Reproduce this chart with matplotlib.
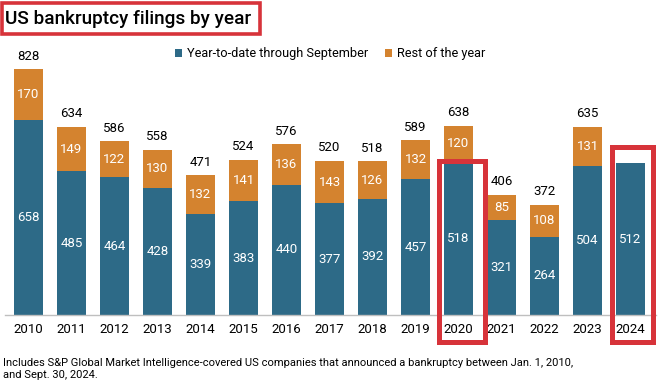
import numpy as np
import matplotlib
matplotlib.use("Agg")
import matplotlib.pyplot as plt
from matplotlib.patches import Rectangle

years = ["2010", "2011", "2012", "2013", "2014", "2015", "2016", "2017",
         "2018", "2019", "2020", "2021", "2022", "2023", "2024"]
ytd = [658, 485, 464, 428, 339, 383, 440, 377, 392, 457, 518, 321, 264, 504, 512]
rest = [170, 149, 122, 130, 132, 141, 136, 143, 126, 132, 120, 85, 108, 131, None]
highlight = ["2020", "2024"]

teal = "#2d6a87"
orange = "#d4832f"
red = "#d7333a"

plt.rcParams['font.family'] = ['Roboto', 'DejaVu Sans']

W, H = 660, 387
fig = plt.figure(figsize=(W / 100, H / 100), dpi=100)

def fx(x):
    return x / W

def fy(y):
    return 1 - y / H

# axes placed so bars line up with the reference
base_px, top_px = 315, 40
ax = fig.add_axes([fx(5), fy(base_px), fx(651), (base_px - top_px) / H])

x = np.arange(len(years))
ytd_a = np.array(ytd, dtype=float)
rest_a = np.array([np.nan if r is None else r for r in rest], dtype=float)
width = 0.674

b1 = ax.bar(x, ytd_a, width, color=teal, label="Year-to-date through September")
b2 = ax.bar(x, np.nan_to_num(rest_a), width, bottom=ytd_a, color=orange,
            label="Rest of the year")

for i in range(len(years)):
    ax.text(x[i], ytd_a[i] / 2, f"{int(ytd_a[i])}", ha='center', va='center',
            color='white', fontsize=9.5)
    if not np.isnan(rest_a[i]):
        ax.text(x[i], ytd_a[i] + rest_a[i] / 2, f"{int(rest_a[i])}",
                ha='center', va='center', color='white', fontsize=9.5)
        tot = ytd_a[i] + rest_a[i]
        ax.text(x[i], tot + 44, f"{int(tot)}", ha='center', va='center',
                color='black', fontsize=9.5)

ax.set_xlim((5 - 28.5) / 43, (656 - 28.5) / 43)
ax.set_ylim(0, (base_px - top_px) / 0.2965)
ax.set_xticks(x)
ax.set_xticklabels(years, fontsize=9.5)
ax.tick_params(axis='x', length=0, pad=6)
ax.set_yticks([])
for s in ['top', 'right', 'left']:
    ax.spines[s].set_visible(False)
ax.spines['bottom'].set_color('#bfbfbf')
ax.spines['bottom'].set_linewidth(1)
ax.patch.set_alpha(0)

ax.legend(handles=[b1, b2], loc='center', bbox_to_anchor=(0.5, fy(54)),
          bbox_transform=fig.transFigure, ncol=2, frameon=False,
          fontsize=9.2, handlelength=0.55, handleheight=0.55,
          handletextpad=0.4, columnspacing=1.3)

# title with red frame
fig.text(fx(5), fy(19), "US bankruptcy filings by year", fontsize=13.7,
         fontweight='medium', ha='left', va='center')
fig.patches.append(Rectangle((fx(1.75), fy(33.5)), fx(258.5), (33.5 - 3.5) / H,
                             transform=fig.transFigure, fill=False,
                             edgecolor=red, linewidth=2.6))

# highlight frames around 2020 and 2024
frames = {"2020": (438.5, 160.5, 484.5), "2024": (611.5, 147.5, 652.5)}
for yr in highlight:
    l, t, r = frames[yr]
    fig.patches.append(Rectangle((fx(l), fy(341.5)), fx(r - l), (341.5 - t) / H,
                                 transform=fig.transFigure, fill=False,
                                 edgecolor=red, linewidth=3.6))

fig.text(fx(3), fy(369), "Includes S&P Global Market Intelligence-covered US companies "
         "that announced a bankruptcy between Jan. 1, 2010,\nand Sept. 30, 2024.",
         fontsize=8, ha='left', va='center', linespacing=1.25)

fig.savefig("out.png", dpi=100)
